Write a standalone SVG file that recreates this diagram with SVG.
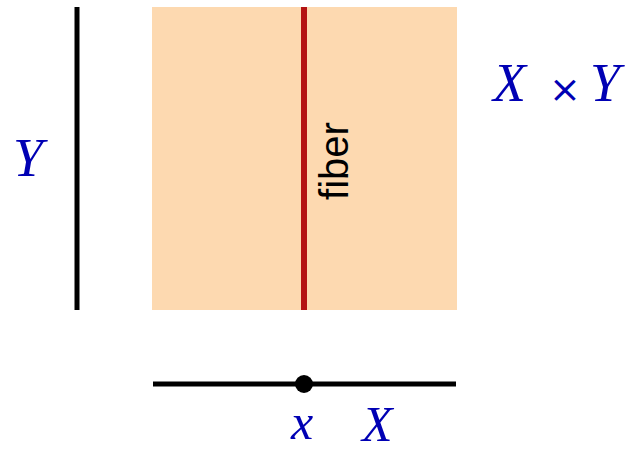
<svg xmlns="http://www.w3.org/2000/svg" width="635" height="451" viewBox="0 0 635 451">
<style>
.m{font-family:"Liberation Serif",serif;font-style:italic;fill:#0000B4;font-size:54px;}
.b{font-size:50px;}
.op{font-family:"DejaVu Sans",sans-serif;fill:#0000B4;}
.ln{stroke:#000;stroke-width:5;fill:none;}
</style>
<g id="product">
<rect x="152" y="7" width="305" height="303" fill="#FDD9B0"/>
<text class="m" x="493" y="101">X</text>
<text class="op" x="565" y="102" font-size="38" text-anchor="middle">×</text>
<text class="m" x="590" y="101">Y</text>
</g>
<g id="fiber">
<line x1="304" y1="7" x2="304" y2="310" stroke="#B31313" stroke-width="6"/>
<text x="348" y="161" font-family="Liberation Sans,sans-serif" font-size="40" fill="#000" text-anchor="middle" transform="rotate(-90 348 161)">fiber</text>
</g>
<g id="Yaxis">
<line class="ln" x1="77" y1="7" x2="77" y2="310"/>
<text class="m" x="13" y="176">Y</text>
</g>
<g id="Xaxis">
<line class="ln" x1="153" y1="384" x2="456" y2="384"/>
<circle cx="304" cy="384" r="9" fill="#000"/>
<text class="m b" x="291" y="439">x</text>
<text class="m b" x="362" y="441">X</text>
</g>
<g id="connectors"></g>
</svg>
